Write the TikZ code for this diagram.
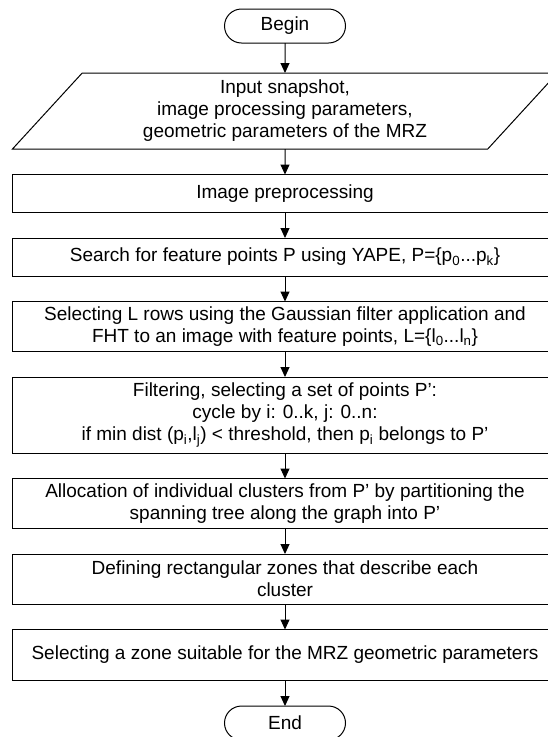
\documentclass[tikz,border=0pt]{standalone}
\usepackage{fontspec}
\setmainfont{Liberation Sans}
\usepackage{tikz}
\usetikzlibrary{arrows.meta,positioning,shapes.geometric,shapes.misc}

\begin{document}
\begin{tikzpicture}[
  x=1pt,y=1pt,
  node distance=25.5pt,
  font=\fontsize{19}{22}\selectfont,
  terminal/.style={rounded rectangle,draw,line width=1pt,outer sep=0pt,minimum width=125pt,minimum height=34pt,inner sep=2pt},
  io/.style={trapezium,trapezium left angle=53,trapezium right angle=127,trapezium stretches=true,draw,line width=1pt,outer sep=0pt,minimum width=546pt,minimum height=76pt,align=center,inner sep=2pt},
  proc/.style={rectangle,draw,line width=1pt,outer sep=0pt,minimum width=544.6pt,align=center,inner sep=2pt},
  every edge/.style={draw,line width=1pt,-{Triangle[length=10pt,width=9pt]}}
]
\useasboundingbox (0,0) rectangle (547,-737);
% start and input
\node[terminal] (begin) at (285,-26) {Begin};
\node[io,below=30pt of begin] (input) {Input snapshot,\\image processing parameters,\\geometric parameters of the MRZ};
% processing steps
\node[proc,minimum height=38pt,below=of input] (prep) {Image preprocessing};
\node[proc,minimum height=38pt,below=of prep] (search) {Search for feature points P using YAPE, P=\{p\textsubscript{0}...p\textsubscript{k}\}};
\node[proc,minimum height=50pt,below=of search] (rows) {Selecting L rows using the Gaussian filter application and\\FHT to an image with feature points, L=\{l\textsubscript{0}...l\textsubscript{n}\}};
\node[proc,minimum height=76pt,below=of rows] (filter) {Filtering, selecting a set of points P’:\\cycle by i: 0..k, j: 0..n:\\if min dist (p\textsubscript{i},l\textsubscript{j}) < threshold, then p\textsubscript{i} belongs to P’};
\node[proc,minimum height=50pt,below=of filter] (clusters) {Allocation of individual clusters from P’ by partitioning the\\spanning tree along the graph into P’};
\node[proc,minimum height=50pt,below=of clusters] (zones) {Defining rectangular zones that describe each\\cluster};
\node[proc,minimum height=51pt,below=of zones] (select) {Selecting a zone suitable for the MRZ geometric parameters};
\node[terminal,below=of select] (end) {End};

% flow
\draw (begin) edge (input);
\draw (input) edge (prep);
\draw (prep) edge (search);
\draw (search) edge (rows);
\draw (rows) edge (filter);
\draw (filter) edge (clusters);
\draw (clusters) edge (zones);
\draw (zones) edge (select);
\draw (select) edge (end);
\end{tikzpicture}
\end{document}
